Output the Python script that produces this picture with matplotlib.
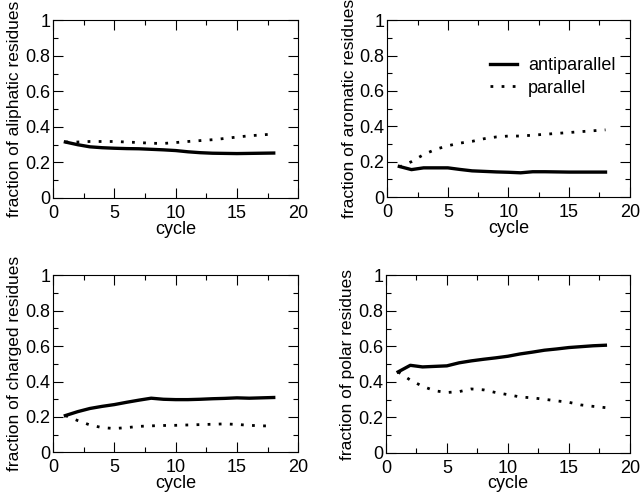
import numpy as np
import matplotlib
matplotlib.use('Agg')
import matplotlib.pyplot as plt
from matplotlib.ticker import MultipleLocator, FormatStrFormatter

plt.rcParams['font.family'] = ['Liberation Sans', 'DejaVu Sans']
plt.rcParams['font.size'] = 13

cycle = np.arange(1, 19)

# fraction of residues per cycle
aliph_anti = [0.315, 0.300, 0.288, 0.283, 0.280, 0.278, 0.277, 0.274, 0.271,
              0.267, 0.260, 0.255, 0.252, 0.251, 0.250, 0.251, 0.252, 0.253]
aliph_par = [0.315, 0.315, 0.318, 0.318, 0.318, 0.315, 0.312, 0.308, 0.307,
             0.312, 0.318, 0.323, 0.328, 0.335, 0.343, 0.350, 0.355, 0.360]

arom_anti = [0.173, 0.155, 0.165, 0.165, 0.165, 0.156, 0.148, 0.145, 0.142,
             0.140, 0.137, 0.143, 0.143, 0.142, 0.141, 0.141, 0.141, 0.141]
arom_par = [0.170, 0.200, 0.240, 0.270, 0.290, 0.305, 0.315, 0.330, 0.340,
            0.345, 0.345, 0.350, 0.355, 0.360, 0.365, 0.370, 0.375, 0.380]

charg_anti = [0.208, 0.230, 0.248, 0.260, 0.270, 0.283, 0.295, 0.306, 0.300,
              0.298, 0.298, 0.300, 0.303, 0.305, 0.308, 0.306, 0.308, 0.310]
charg_par = [0.208, 0.180, 0.155, 0.140, 0.135, 0.140, 0.147, 0.150, 0.152,
             0.153, 0.155, 0.157, 0.159, 0.161, 0.158, 0.153, 0.150, 0.149]

polar_anti = [0.456, 0.493, 0.484, 0.487, 0.490, 0.507, 0.518, 0.527, 0.535,
              0.544, 0.557, 0.567, 0.578, 0.585, 0.593, 0.598, 0.603, 0.606]
polar_par = [0.456, 0.410, 0.375, 0.350, 0.340, 0.345, 0.360, 0.355, 0.340,
             0.328, 0.315, 0.310, 0.302, 0.293, 0.285, 0.270, 0.262, 0.255]

fig = plt.figure(figsize=(6.4, 4.95), dpi=100)

panels = [
    ([0.083, 0.600, 0.383, 0.359], aliph_anti, aliph_par, 'fraction of aliphatic residues'),
    ([0.605, 0.602, 0.379, 0.357], arom_anti, arom_par, 'fraction of aromatic residues'),
    ([0.083, 0.086, 0.383, 0.358], charg_anti, charg_par, 'fraction of charged residues'),
    ([0.603, 0.085, 0.381, 0.359], polar_anti, polar_par, 'fraction of polar residues'),
]

for i, (pos, anti, par, ylab) in enumerate(panels):
    ax = fig.add_axes(pos)
    ax.plot(cycle, anti, color='black', lw=2.4, label='antiparallel')
    ax.plot(cycle, par, color='black', lw=2.0, linestyle=(0, (1, 3)),
            label='parallel')
    ax.set_xlim(0, 20)
    ax.set_ylim(0, 1)
    ax.xaxis.set_major_locator(MultipleLocator(5))
    ax.xaxis.set_minor_locator(MultipleLocator(2.5))
    ax.yaxis.set_major_locator(MultipleLocator(0.2))
    ax.yaxis.set_minor_locator(MultipleLocator(0.1))
    ax.yaxis.set_major_formatter(FormatStrFormatter('%g'))
    ax.tick_params(which='both', direction='in', top=True, right=True)
    ax.tick_params(which='major', length=7, width=0.8)
    ax.tick_params(which='minor', length=3.5, width=0.8)
    ax.tick_params(axis='x', which='major', pad=5)
    ax.tick_params(axis='y', which='major', pad=2)
    ax.set_xlabel('cycle', labelpad=-1)
    ax.set_ylabel(ylab, labelpad=2, fontsize=12.5)
    if i == 1:
        ax.legend(loc='center left', bbox_to_anchor=(0.424, 0.68),
                  frameon=False, borderpad=0, borderaxespad=0,
                  handlelength=1.5, handletextpad=0.6, labelspacing=0.3)

fig.savefig('out.png', dpi=100)
